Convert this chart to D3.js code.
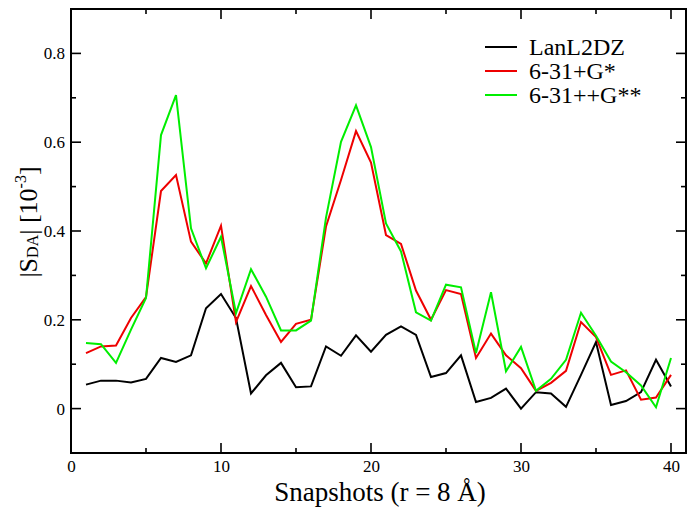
<!DOCTYPE html>
<html><head><meta charset="utf-8">
<script src="https://cdn.jsdelivr.net/npm/d3@7"></script>
<style>body{margin:0;background:#fff}svg{display:block}</style>
</head><body>
<svg id="c" width="690" height="515"></svg>
<script>
const snapshots = d3.range(1, 41);
const lanl2dz = [0.054,0.063,0.063,0.059,0.067,0.114,0.105,0.120,0.226,0.258,
  0.204,0.034,0.075,0.103,0.048,0.050,0.140,0.119,0.165,0.128,
  0.166,0.185,0.166,0.071,0.080,0.120,0.015,0.024,0.045,0.000,
  0.037,0.034,0.004,0.076,0.150,0.008,0.017,0.037,0.110,0.050];
const g631 = [0.125,0.140,0.142,0.204,0.251,0.490,0.526,0.376,0.327,0.412,
  0.195,0.276,0.211,0.150,0.191,0.200,0.410,0.515,0.625,0.554,
  0.391,0.371,0.266,0.200,0.267,0.258,0.114,0.169,0.120,0.091,
  0.040,0.058,0.085,0.195,0.161,0.076,0.086,0.020,0.025,0.076];
const g631pp = [0.148,0.145,0.103,0.178,0.249,0.616,0.706,0.406,0.316,0.387,
  0.215,0.314,0.252,0.176,0.176,0.198,0.430,0.601,0.683,0.589,
  0.417,0.354,0.217,0.198,0.279,0.273,0.125,0.262,0.084,0.139,
  0.040,0.067,0.110,0.216,0.164,0.106,0.082,0.052,0.003,0.114];
const seriesNames = ["LanL2DZ","6-31+G*","6-31++G**"];
const seriesColors = ["#000000","#ee0000","#00ee00"];
const xMajor = [0,10,20,30,40], xMinor = [5,15,25,35];
const yMajor = [0,0.2,0.4,0.6,0.8], yMinor = [0.1,0.3,0.5,0.7];

const FONT = '"Liberation Serif"';
const svg = d3.select("#c");
const L=71, R=686, T=9, B=453;
const x = d3.scaleLinear().domain([0,41]).range([L,R]);
const y = d3.scaleLinear().domain([-0.1,0.9]).range([B,T]);

const fmtY = d => d===0 ? "0" : d3.format(".1f")(d);
svg.append("g").attr("transform",`translate(${L},0)`)
  .call(d3.axisLeft(y).tickValues(yMajor).tickFormat(fmtY).tickSize(0).tickPadding(6))
  .call(g=>{g.select(".domain").remove();g.attr("font-family",null).attr("font-size",null);
    g.selectAll("text").style("font-family",FONT).style("font-size","17px").attr("fill","#000");});
svg.append("g").attr("transform",`translate(0,${B})`)
  .call(d3.axisBottom(x).tickValues(xMajor).tickSize(0).tickPadding(7))
  .call(g=>{g.select(".domain").remove();g.attr("font-family",null).attr("font-size",null);
    g.selectAll("text").style("font-family",FONT).style("font-size","17px").attr("fill","#000");});

const tk = svg.append("g").attr("stroke","#000").attr("stroke-width",1.6);
function vt(vals,len){vals.forEach(v=>{
  tk.append("line").attr("x1",x(v)).attr("x2",x(v)).attr("y1",B).attr("y2",B-len);
  tk.append("line").attr("x1",x(v)).attr("x2",x(v)).attr("y1",T).attr("y2",T+len);});}
function ht(vals,len){vals.forEach(v=>{
  tk.append("line").attr("y1",y(v)).attr("y2",y(v)).attr("x1",L).attr("x2",L+len);
  tk.append("line").attr("y1",y(v)).attr("y2",y(v)).attr("x1",R).attr("x2",R-len);});}
vt(xMajor,10); vt(xMinor,5); ht(yMajor,10); ht(yMinor,5);

const line = d3.line().x((d,i)=>x(snapshots[i])).y(d=>y(d));
[lanl2dz,g631,g631pp].forEach((s,i)=>{
  svg.append("path").datum(s).attr("d",line).attr("fill","none")
    .attr("stroke",seriesColors[i]).attr("stroke-width",2);
});

svg.append("rect").attr("x",L).attr("y",T).attr("width",R-L).attr("height",B-T)
  .attr("fill","none").attr("stroke","#000").attr("stroke-width",2);

const lg = svg.append("g");
seriesNames.forEach((n,i)=>{
  const yy = 47 + i*24;
  lg.append("line").attr("x1",485).attr("x2",517).attr("y1",yy).attr("y2",yy)
    .attr("stroke",seriesColors[i]).attr("stroke-width",2);
  lg.append("text").attr("x",529).attr("y",yy+8).style("font-family",FONT).style("font-size","24px").text(n);
});

svg.append("text").attr("x",380).attr("y",501).attr("text-anchor","middle")
  .style("font-family",FONT).style("font-size","27px").text("Snapshots (r = 8 Å)");

const yt = svg.append("text").attr("transform","translate(37,222) rotate(-90)")
  .attr("text-anchor","middle").style("font-family",FONT).style("font-size","26px");
yt.append("tspan").text("|");
yt.append("tspan").text("S");
yt.append("tspan").style("font-size","16px").attr("dy",1).text("DA");
yt.append("tspan").attr("dy",-1).text("|");
yt.append("tspan").text(" [10");
yt.append("tspan").style("font-size","16px").attr("dy",-11).text("-3");
yt.append("tspan").attr("dy",11).text("]");
</script>
</body></html>
